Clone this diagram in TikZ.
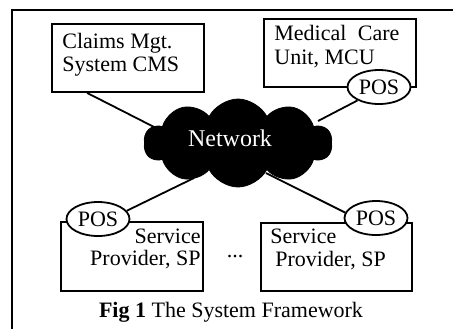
\documentclass[tikz,border=0pt]{standalone}
\usepackage{fontspec}
\setmainfont{Liberation Serif}
\usetikzlibrary{shapes.geometric,shapes.symbols,calc,backgrounds}
\tikzset{
  box/.style={draw, rectangle, inner sep=0pt, line width=0.9pt},
  posnode/.style={draw, ellipse, fill=white, line width=0.9pt, minimum width=31.5pt, minimum height=17pt, inner sep=0pt, font=\fontsize{11}{12}\selectfont},
  txt/.style={inner sep=0pt, font=\fontsize{11}{13}\selectfont},
  conn/.style={line width=0.9pt},
  frameline/.style={line width=0.9pt}
}
\begin{document}
\begin{tikzpicture}[x=0.5pt,y=-0.5pt]
\useasboundingbox (0,0) rectangle (453,329);
% frame
\coordinate (f0) at (12,329);
\coordinate (f1) at (12,10);
\coordinate (f2) at (453,10);
\draw[frameline] (f0) -- (f1) -- (f2);
% boxes
\node[box, minimum width=76pt, minimum height=34pt] (cms) at (128,58) {};
\node[box, minimum width=76pt, minimum height=34pt] (mcu) at (340,53) {};
\node[box, minimum width=71pt, minimum height=34.5pt] (spl) at (132,256.5) {};
\node[box, minimum width=75.5pt, minimum height=34pt] (spr) at (336.5,257) {};
% cloud
\node[cloud, draw, fill=black, cloud puffs=10, cloud puff arc=125, aspect=2.1, minimum width=94pt, minimum height=44pt, inner sep=0pt] (net) at (238,143) {};
\node[text=white, font=\fontsize{12}{14}\selectfont, inner sep=0pt] (netl) at (230,138) {Network};
% POS ellipses
\node[posnode] (posm) at (379,87) {POS};
\node[posnode] (posl) at (98,219) {POS};
\node[posnode] (posr) at (376,218) {POS};
% connectors
\begin{scope}[on background layer]
\draw[conn] ($(cms.south west)+(36,0)$) -- ($(net.center)+(-80,-14)$);
\draw[conn] (posm.212) -- ($(net.center)+(80,-22)$);
\draw[conn] (posl.16) -- ($(net.center)+(-44,35)$);
\draw[conn] (posr.170) -- ($(net.center)+(28,30)$);
\end{scope}
% texts
\node[txt, anchor=base west] (t1) at (62,48) {Claims Mgt.};
\node[txt, anchor=base west] (t2) at (62,71) {System CMS};
\node[txt, anchor=base west] (t3) at (274,40) {\makebox[62.5pt][s]{Medical Care}};
\node[txt, anchor=base west] (t4) at (274,64) {Unit, MCU};
\node[txt, anchor=base east] (t5) at (201,243) {Service};
\node[txt, anchor=base east] (t6) at (201,265) {Provider, SP};
\node[txt, anchor=base west] (t7) at (270,243) {Service};
\node[txt, anchor=base west] (t8) at (275,266) {Provider, SP};
\node[txt, anchor=base] (dots) at (235,257) {...};
\node[txt, anchor=base] (cap) at (231,317) {\textbf{Fig 1} The System Framework};
\end{tikzpicture}
\end{document}
